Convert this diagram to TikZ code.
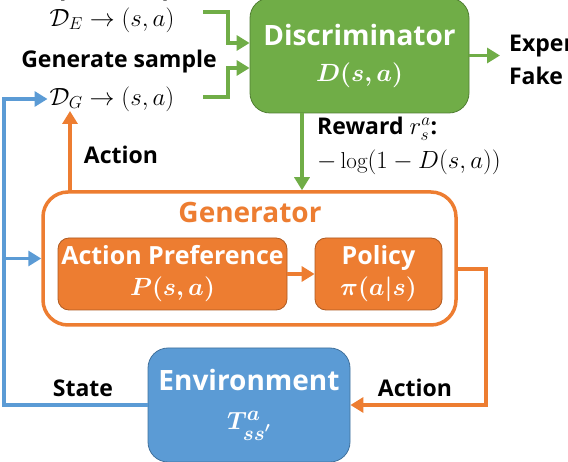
\documentclass[tikz,border=0pt]{standalone}
\usepackage{fontspec}
\usepackage{amsmath,bm}
\setsansfont{Open Sans}
\usetikzlibrary{arrows.meta,calc}
\definecolor{gangreen}{HTML}{70AD47}
\definecolor{gangreendark}{HTML}{507E32}
\definecolor{ganorange}{HTML}{ED7D31}
\definecolor{ganorangedark}{HTML}{AE5A21}
\definecolor{envblue}{HTML}{5B9BD5}
\definecolor{envbluedark}{HTML}{41719C}
\tikzset{
  box/.style={draw, rounded corners=20pt, line width=0.8pt, text=white, align=center,
    inner sep=0pt, font=\sffamily\bfseries\fontsize{28}{34}\selectfont},
  subbox/.style={box, fill=ganorange, draw=ganorangedark, rounded corners=11pt,
    minimum height=72pt, font=\sffamily\bfseries\fontsize{25}{30}\selectfont},
  lbl/.style={inner sep=1pt, font=\sffamily\bfseries\fontsize{23}{28}\selectfont},
  mathlbl/.style={inner sep=2pt, font=\fontsize{25}{30}\selectfont},
  garrow/.style={draw=gangreen, line width=3.5pt, -{Triangle[length=13pt,width=15pt]}},
  oarrow/.style={draw=ganorange, line width=3.5pt, -{Triangle[length=13pt,width=15pt]}},
  barrow/.style={draw=envblue, line width=3.5pt, -{Triangle[length=13pt,width=15pt]}},
}

\begin{document}
\begin{tikzpicture}[x=1pt,y=-1pt]
  %%%%% START %%%%%
  \clip (0,0) rectangle (568,462);

  % discriminator
  \node[box, fill=gangreen, draw=gangreendark, minimum width=219pt, minimum height=115pt]
    (disc) at (359.5,55.5) {Discriminator\\[2pt]$\bm{D(s,a)}$};

  % samples
  \node[lbl, anchor=base] (expert) at (115,-4) {Expert sample};
  \node[mathlbl] (de) at (112,20) {$\mathcal{D}_E \to (s,a)$};
  \node[lbl, anchor=base] (gensample) at (119,68) {Generate sample};
  \node[mathlbl] (dg) at (112,99) {$\mathcal{D}_G \to (s,a)$};

  \coordinate (deend) at (203,12);
  \coordinate (dgend) at (203,97);
  \draw[garrow] (deend) -- ++(25,0) |- ($(disc.west)+(0,-12.5)$);
  \draw[garrow] (dgend) -- ++(25,0) |- ($(disc.west)+(0,12.5)$);

  % output
  \coordinate (discout) at (500,0);
  \draw[garrow] (disc.east) -- (disc.east -| discout);
  \node[lbl, anchor=base west] (expertout) at (508,52) {Expert};
  \node[lbl, anchor=base] (fakeout) at (536,85) {Fake};

  % generator
  \node[draw=ganorange, fill=white, line width=3.5pt, rounded corners=25pt,
    minimum width=413pt, minimum height=133pt] (gen) at (249.5,258.5) {};
  \node[font=\sffamily\bfseries\fontsize{28}{34}\selectfont, text=ganorange]
    (gentitle) at (250,213) {Generator};
  \node[subbox, minimum width=229pt] (pref) at (172.5,274) {Action Preference\\[1pt]$\bm{P(s,a)}$};
  \node[subbox, minimum width=127pt] (policy) at (378.5,274) {Policy\\[1pt]$\bm{\pi(a|s)}$};
  \draw[oarrow] (pref) -- (policy);

  % reward
  \coordinate (rewardx) at (302,0);
  \draw[garrow] (disc.south -| rewardx) -- (gen.north -| rewardx);
  \node[lbl, anchor=north west, align=left] (reward) at (316,116)
    {Reward $r_s^a$:\\[6pt]$-\log(1-D(s,a))$};

  % action to sample
  \coordinate (acttip) at (70,111);
  \draw[oarrow] (acttip |- gen.north) -- (acttip);
  \node[lbl] (actgen) at (121,155) {Action};

  % environment
  \node[box, fill=envblue, draw=envbluedark, minimum width=202pt, minimum height=114pt]
    (env) at (249,405) {Environment\\[5pt]$\bm{T^a_{ss'}}$};

  \coordinate (actright) at (486,269);
  \draw[oarrow] (gen.east |- actright) -- (actright) |- (env.east);
  \node[lbl] (actenv) at (415,388) {Action};

  \coordinate (stateleft) at (4,403);
  \draw[barrow] (env.west) -- (env.west -| stateleft) |- (dg.west);
  \draw[barrow] (gen.west -| stateleft) -- (gen.west);
  \node[lbl] (state) at (83,388) {State};
  %%%%% END %%%%%
\end{tikzpicture}
\end{document}
